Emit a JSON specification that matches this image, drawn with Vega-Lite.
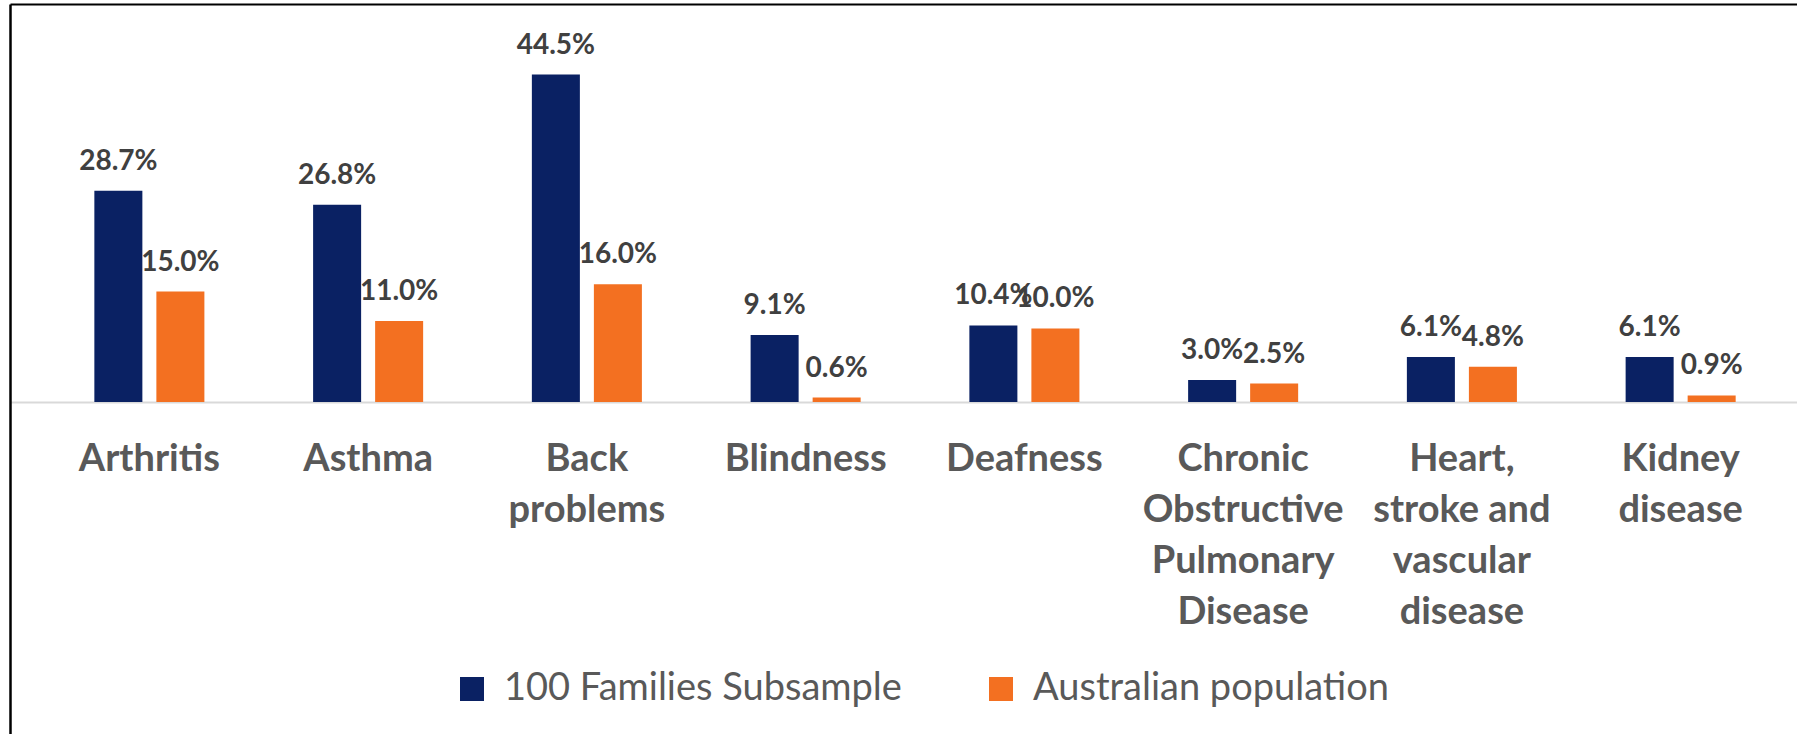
{
  "$schema": "https://vega.github.io/schema/vega-lite/v6.json",
  "autosize": "none",
  "width": 1787,
  "height": 730,
  "padding": {"left": 10, "top": 4, "right": 0, "bottom": 0},
  "background": "white",
  "config": {"view": {"stroke": null}},
  "data": {
    "values": [
      {"condition": "Arthritis", "group": "100 Families Subsample", "value": 0.287},
      {"condition": "Arthritis", "group": "Australian population", "value": 0.150},
      {"condition": "Asthma", "group": "100 Families Subsample", "value": 0.268},
      {"condition": "Asthma", "group": "Australian population", "value": 0.110},
      {"condition": "Back problems", "group": "100 Families Subsample", "value": 0.445},
      {"condition": "Back problems", "group": "Australian population", "value": 0.160},
      {"condition": "Blindness", "group": "100 Families Subsample", "value": 0.091},
      {"condition": "Blindness", "group": "Australian population", "value": 0.006},
      {"condition": "Deafness", "group": "100 Families Subsample", "value": 0.104},
      {"condition": "Deafness", "group": "Australian population", "value": 0.100},
      {"condition": "Chronic Obstructive Pulmonary Disease", "group": "100 Families Subsample", "value": 0.030},
      {"condition": "Chronic Obstructive Pulmonary Disease", "group": "Australian population", "value": 0.025},
      {"condition": "Heart, stroke and vascular disease", "group": "100 Families Subsample", "value": 0.061},
      {"condition": "Heart, stroke and vascular disease", "group": "Australian population", "value": 0.048},
      {"condition": "Kidney disease", "group": "100 Families Subsample", "value": 0.061},
      {"condition": "Kidney disease", "group": "Australian population", "value": 0.009}
    ]
  },
  "layer": [
    {
      "mark": {"type": "bar"},
      "encoding": {
        "x": {
          "field": "condition",
          "type": "nominal",
          "sort": null,
          "scale": {"paddingInner": 0.497, "paddingOuter": 0.333, "align": 0.579},
          "axis": {
            "orient": "bottom",
            "offset": -332,
            "title": null,
            "ticks": false,
            "labelAngle": 0,
            "labelLimit": 0,
            "labelFont": "Lato",
            "labelFontWeight": "bold",
            "labelFontSize": 38,
            "labelColor": "#595959",
            "labelLineHeight": 51,
            "labelPadding": 38,
            "domainColor": "#d9d9d9",
            "domainWidth": 2,
            "labelExpr": "datum.label == 'Back problems' ? ['Back','problems'] : datum.label == 'Chronic Obstructive Pulmonary Disease' ? ['Chronic','Obstructive','Pulmonary','Disease'] : datum.label == 'Heart, stroke and vascular disease' ? ['Heart,','stroke and','vascular','disease'] : datum.label == 'Kidney disease' ? ['Kidney','disease'] : datum.label"
          }
        },
        "xOffset": {
          "field": "group",
          "type": "nominal",
          "scale": {"paddingInner": 0.2258, "paddingOuter": 0}
        },
        "y": {
          "field": "value",
          "type": "quantitative",
          "scale": {"domain": [-0.4511, 0.5408], "nice": false},
          "axis": {
            "title": null,
            "labels": false,
            "ticks": false,
            "grid": false,
            "domainColor": "#000000",
            "domainWidth": 2.5
          }
        },
        "color": {
          "field": "group",
          "type": "nominal",
          "scale": {
            "domain": ["100 Families Subsample", "Australian population"],
            "range": ["#0a2163", "#f37021"]
          },
          "legend": {
            "orient": "none",
            "legendX": 443,
            "legendY": 666,
            "direction": "horizontal",
            "title": null,
            "symbolType": "square",
            "symbolSize": 576,
            "symbolStrokeWidth": 0,
            "labelFont": "Lato",
            "labelFontSize": 38,
            "labelColor": "#595959",
            "labelOffset": 13,
            "columnPadding": 80,
            "labelLimit": 0
          }
        }
      }
    },
    {
      "mark": {"type": "text", "font": "Lato", "fontWeight": "bold", "fontSize": 28, "color": "#404040", "dy": -21, "baseline": "alphabetic"},
      "encoding": {
        "x": {
          "field": "condition",
          "type": "nominal",
          "sort": null,
          "axis": {
            "orient": "top",
            "title": null,
            "labels": false,
            "ticks": false,
            "domainColor": "#000000",
            "domainWidth": 2
          }
        },
        "xOffset": {"field": "group", "type": "nominal"},
        "y": {"field": "value", "type": "quantitative", "axis": null},
        "text": {"field": "value", "type": "quantitative", "format": ".1%"}
      }
    }
  ],
  "resolve": {"axis": {"x": "independent", "y": "independent"}}
}
